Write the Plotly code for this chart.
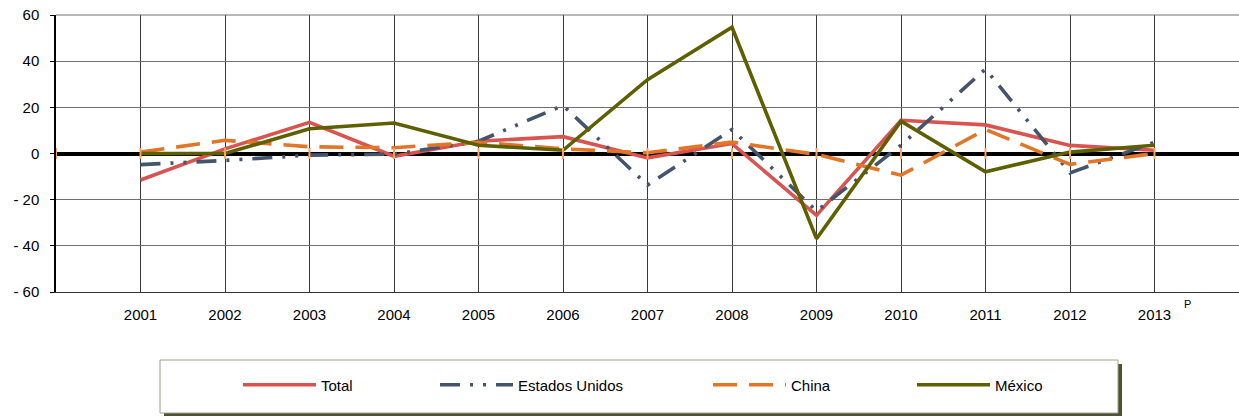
import plotly.graph_objects as go

# Annual growth rates (%), 2001-2013 (2013 preliminary)
years = [2001, 2002, 2003, 2004, 2005, 2006, 2007, 2008, 2009, 2010, 2011, 2012, 2013]
total = [-11.5, 2.0, 13.5, -1.2, 5.3, 7.3, -1.9, 4.3, -26.8, 14.4, 12.4, 3.5, 1.4]
estados_unidos = [-4.8, -3.0, -0.7, -0.3, 5.3, 20.8, -13.7, 10.4, -24.9, 3.6, 36.6, -8.4, 4.9]
china = [0.6, 5.7, 2.9, 2.5, 4.9, 2.0, 0.3, 4.9, -0.4, -9.4, 10.4, -4.7, 0.0]
mexico = [0.0, 0.0, 10.7, 13.2, 3.6, 1.4, 32.0, 54.7, -36.9, 14.0, -7.9, 0.6, 3.6]

y_ticks = [60, 40, 20, 0, -20, -40, -60]
y_tick_text = ["60", "40", "20", "0", "- 20", "- 40", "- 60"]

FONT = "Liberation Sans, Arial, sans-serif"
FS = 15

PLOT_L, PLOT_W = 56, 1183
PLOT_B, PLOT_H = 292, 277


def px_x(p):
    return (p - PLOT_L) / PLOT_W


def px_y(p):
    return (PLOT_B - p) / PLOT_H


# name, values, colour, dash, legend id, left pixel of legend symbol
series = [
    ("Total", total, "#D9534F", "solid", "legend", 243),
    ("Estados Unidos", estados_unidos, "#44546A", "20px,10px,3px,10px,3px,10px", "legend2", 440),
    ("China", china, "#E37527", "24px,12px", "legend3", 713),
    ("México", mexico, "#5E6000", "solid", "legend4", 917),
]

fig = go.Figure()

for name, vals, color, dash, leg, _ in series:
    fig.add_trace(go.Scatter(
        x=years, y=vals, name=name, mode="lines",
        line=dict(color=color, width=3.6, dash=dash),
        legend=leg,
    ))

# small tick marks on the zero line at each year
fig.add_trace(go.Scatter(
    x=[2000] + years, y=[0] * (len(years) + 1), mode="markers",
    marker=dict(symbol="line-ns-open", size=8, line=dict(color="black", width=2)),
    showlegend=False, hoverinfo="skip",
))

layout_legends = {}
for name, vals, color, dash, leg, lx in series:
    layout_legends[leg] = dict(
        x=px_x(lx - 5), y=px_y(385), xanchor="left", yanchor="middle",
        orientation="h", bgcolor="rgba(0,0,0,0)", borderwidth=0,
        itemwidth=73, font=dict(family=FONT, size=FS, color="#000"),
    )

fig.update_layout(
    width=1239, height=417,
    margin=dict(l=PLOT_L, r=0, t=15, b=125),
    paper_bgcolor="white", plot_bgcolor="white",
    font=dict(family=FONT, size=FS, color="#000"),
    showlegend=True,
    **layout_legends,
    xaxis=dict(
        range=[2000, 2014], tickvals=years, ticktext=[str(y) for y in years],
        showgrid=True, gridcolor="#3a3a3a", gridwidth=1,
        showline=True, linecolor="#333", linewidth=1,
        ticks="", ticklabelstandoff=9, zeroline=False,
        tickfont=dict(family=FONT, size=FS, color="#000"),
    ),
    yaxis=dict(
        range=[-60, 60], tickvals=y_ticks, ticktext=y_tick_text,
        showgrid=True, gridcolor="#6e6e6e", gridwidth=1,
        showline=True, linecolor="#000", linewidth=1.5,
        ticks="outside", ticklen=4, tickcolor="#000",
        ticklabelstandoff=8,
        zeroline=True, zerolinecolor="#000", zerolinewidth=3.5,
        tickfont=dict(family=FONT, size=FS, color="#000"),
    ),
    shapes=[
        # top border of plot area
        dict(type="line", xref="paper", yref="paper", x0=0, x1=1, y0=1, y1=1,
             line=dict(color="#6e6e6e", width=1)),
        # legend box shadow
        dict(type="rect", xref="paper", yref="paper",
             x0=px_x(164), x1=px_x(1122), y0=px_y(416), y1=px_y(364),
             fillcolor="#4F5232", line=dict(width=0), layer="below"),
        # legend box
        dict(type="rect", xref="paper", yref="paper",
             x0=px_x(160), x1=px_x(1118), y0=px_y(413), y1=px_y(360),
             fillcolor="white", line=dict(color="#A0A08A", width=1), layer="below"),
    ],
    annotations=[
        dict(x=2013, y=0, xref="x", yref="paper", text="P", showarrow=False,
             xanchor="center", yanchor="middle", xshift=33, yshift=-12,
             font=dict(family=FONT, size=11, color="#000")),
    ],
)

fig.write_html("out.html")
